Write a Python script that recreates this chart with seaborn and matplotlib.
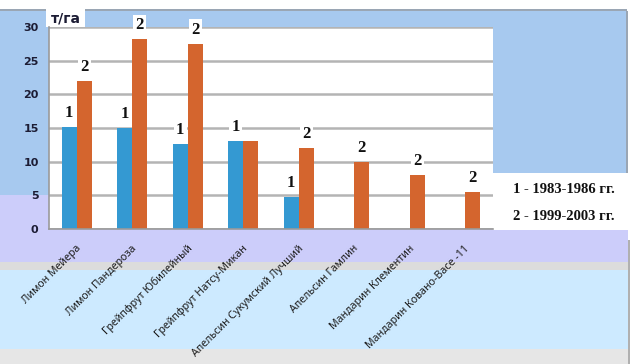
import numpy as np
import pandas as pd
import matplotlib
matplotlib.use("Agg")
import matplotlib.pyplot as plt
import matplotlib.transforms as mtransforms
from matplotlib.patches import Rectangle
import seaborn as sns

categories = ["Лимон Мейера", "Лимон Пандероза", "Грейпфрут Юбилейный",
              "Грейпфрут Натсу-Микан", "Апельсин Сукумский Лучший",
              "Апельсин Гамлин", "Мандарин Клементин", "Мандарин Ковано-Васе -11"]
period1 = [15.2, 15.0, 12.6, 13.1, 4.7, np.nan, np.nan, np.nan]
period2 = [22.0, 28.2, 27.5, 13.1, 12.1, 10.0, 8.0, 5.5]
labels1 = ["1", "1", "1", "1", "1", "", "", ""]
labels2 = ["2", "2", "2", "", "2", "2", "2", "2"]
series_names = ["1 - 1983-1986 гг.", "2 - 1999-2003 гг."]
yticks = [0, 5, 10, 15, 20, 25, 30]
ylabel = "т/га"

df = pd.DataFrame({
    "cat": categories * 2,
    "val": period1 + period2,
    "series": [series_names[0]] * 8 + [series_names[1]] * 8,
})

W, H = 631, 364
sns.set_theme(style="white")
plt.rcParams["font.family"] = ["DejaVu Sans"]
fig = plt.figure(figsize=(W / 100, H / 100), dpi=100)
fig.patch.set_facecolor("white")


def rect(x0, y0, x1, y1, color):
    fig.add_artist(Rectangle((x0 / W, 1 - y1 / H), (x1 - x0) / W, (y1 - y0) / H,
                             transform=fig.transFigure, facecolor=color,
                             edgecolor="none", zorder=-10))


# background bands
rect(0, 9, 627, 11, "#9aa6b4")
rect(0, 11, 626, 195, "#a7c9ef")
rect(0, 195, 628, 262, "#cccdfa")
rect(0, 262, 628, 270, "#dcdcdc")
rect(0, 270, 628, 349, "#cdeaff")
rect(0, 349, 628, 364, "#e6e6e6")
rect(626, 11, 628, 195, "#9aa6b4")
rect(628, 240, 630, 364, "#b0b0b0")

left, right, top, bottom = 49, 493, 27, 229
ax = fig.add_axes([left / W, 1 - bottom / H, (right - left) / W, (bottom - top) / H])
ax.set_facecolor("white")

sns.barplot(data=df, x="cat", y="val", hue="series",
            palette=["#3499d2", "#d4652e"], width=0.54, gap=0,
            saturation=1, ax=ax, legend=False, errorbar=None, linewidth=0)

ax.set_ylim(0, 30)
ax.set_xlim(-0.5, 7.5)
ax.set_yticks(yticks)
ax.yaxis.grid(True, color="#b4b4b4", linewidth=1.8, zorder=0)
ax.set_axisbelow(True)
for s in ["top", "right"]:
    ax.spines[s].set_visible(False)
for s in ["left", "bottom"]:
    ax.spines[s].set_color("#9a9a9a")
    ax.spines[s].set_linewidth(1.2)
ax.set_xlabel("")
ax.set_ylabel("")

ax.tick_params(axis="y", which="major", length=4, width=1, color="#9a9a9a",
               labelsize=8, labelcolor="#1c1c34", pad=3.5)
for t in ax.get_yticklabels():
    t.set_fontweight("bold")

ax.set_xticks(range(len(categories)))
ax.set_xticks(np.arange(-0.5, len(categories), 1), minor=True)
ax.tick_params(axis="x", which="major", length=0, pad=13)
ax.tick_params(axis="x", which="minor", length=4, width=1, color="#9a9a9a")
ax.set_xticklabels(categories, rotation=45, ha="right", va="center",
                   rotation_mode="anchor", fontsize=7.7, color="#1e1e1e",
                   family=["Noto Sans", "DejaVu Sans"])
shift = mtransforms.ScaledTranslation(3 / 100, 0, fig.dpi_scale_trans)
for t in ax.get_xticklabels():
    t.set_transform(t.get_transform() + shift)

# bar labels
containers = ax.containers
for cont, labs in zip(containers, [labels1, labels2]):
    for bar, lab in zip(cont.patches, labs):
        h = bar.get_height()
        if lab == "" or not np.isfinite(h):
            continue
        ax.annotate(lab, (bar.get_x() + bar.get_width() / 2, h),
                    xytext=(0, 10), textcoords="offset points",
                    ha="center", va="center", fontsize=12, fontweight="bold",
                    family=["Liberation Serif"], color="#111111",
                    bbox=dict(boxstyle="square,pad=0.15", fc="white", ec="none"),
                    zorder=5)

# y unit label box
rect(46, 9, 85, 27, "white")
fig.text(66 / W, 1 - 18 / H, ylabel, ha="center", va="center", fontsize=10,
         fontweight="bold", color="#1c1c34")

# legend box
rect(493, 173, 628, 230, "white")
fig.text(564 / W, 1 - 189 / H, series_names[0], ha="center", va="center",
         fontsize=10.5, fontweight="bold", family=["Liberation Serif"], color="#111111")
fig.text(564 / W, 1 - 216 / H, series_names[1], ha="center", va="center",
         fontsize=10.5, fontweight="bold", family=["Liberation Serif"], color="#111111")

fig.savefig("out.png", dpi=100, facecolor=fig.get_facecolor())
